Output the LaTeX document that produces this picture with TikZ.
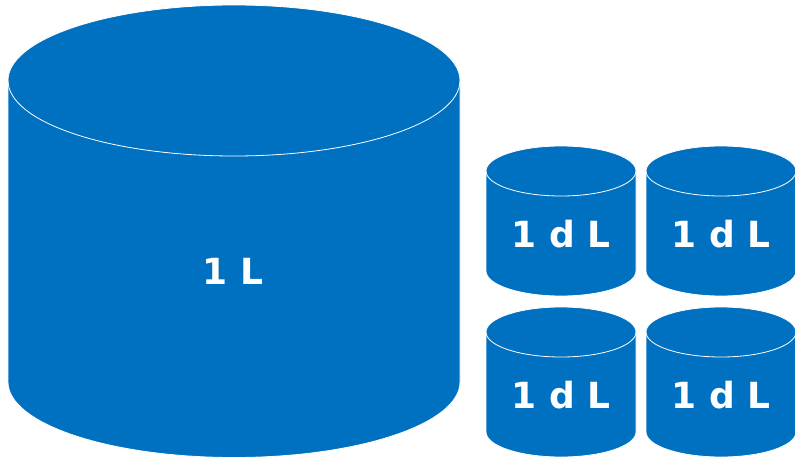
\documentclass[tikz,border=0pt]{standalone}
\usepackage{fontspec}
\newfontfamily\tankfont{DejaVu Sans}
\definecolor{tankblue}{HTML}{0070C0}

\tikzset{
  tank/.style={fill=tankblue, draw=white, line width=0.8pt},
  rim/.style={draw=white, line width=0.8pt},
  volume/.style={text=white, inner sep=0pt,
    font=\tankfont\bfseries\fontsize{36}{40}\selectfont}
}

\begin{document}
\begin{tikzpicture}[x=1pt, y=1pt]
\useasboundingbox (0,0) rectangle (795,459);

% big tank, 1 L
\draw[tank] (8,378.5) -- (8,77)
  arc[start angle=180, end angle=360, x radius=226, y radius=75.5]
  -- (460,378.5)
  arc[start angle=0, end angle=180, x radius=226, y radius=75.5] -- cycle;
\draw[rim] (8,378.5) arc[start angle=180, end angle=360, x radius=226, y radius=75.5];
\node[volume] (litre) at (233,188) {1 L};

% four small tanks, 1 dL each
\foreach \cx/\cy/\n in {561/288/a, 721/288/b, 561/127/c, 721/127/d} {
  \draw[tank] (\cx-75,\cy) -- (\cx-75,\cy-100)
    arc[start angle=180, end angle=360, x radius=75, y radius=25]
    -- (\cx+75,\cy)
    arc[start angle=0, end angle=180, x radius=75, y radius=25] -- cycle;
  \draw[rim] (\cx-75,\cy) arc[start angle=180, end angle=360, x radius=75, y radius=25];
  \node[volume] (dl-\n) at (\cx,\cy-63) {1 d L};
}
\end{tikzpicture}
\end{document}
